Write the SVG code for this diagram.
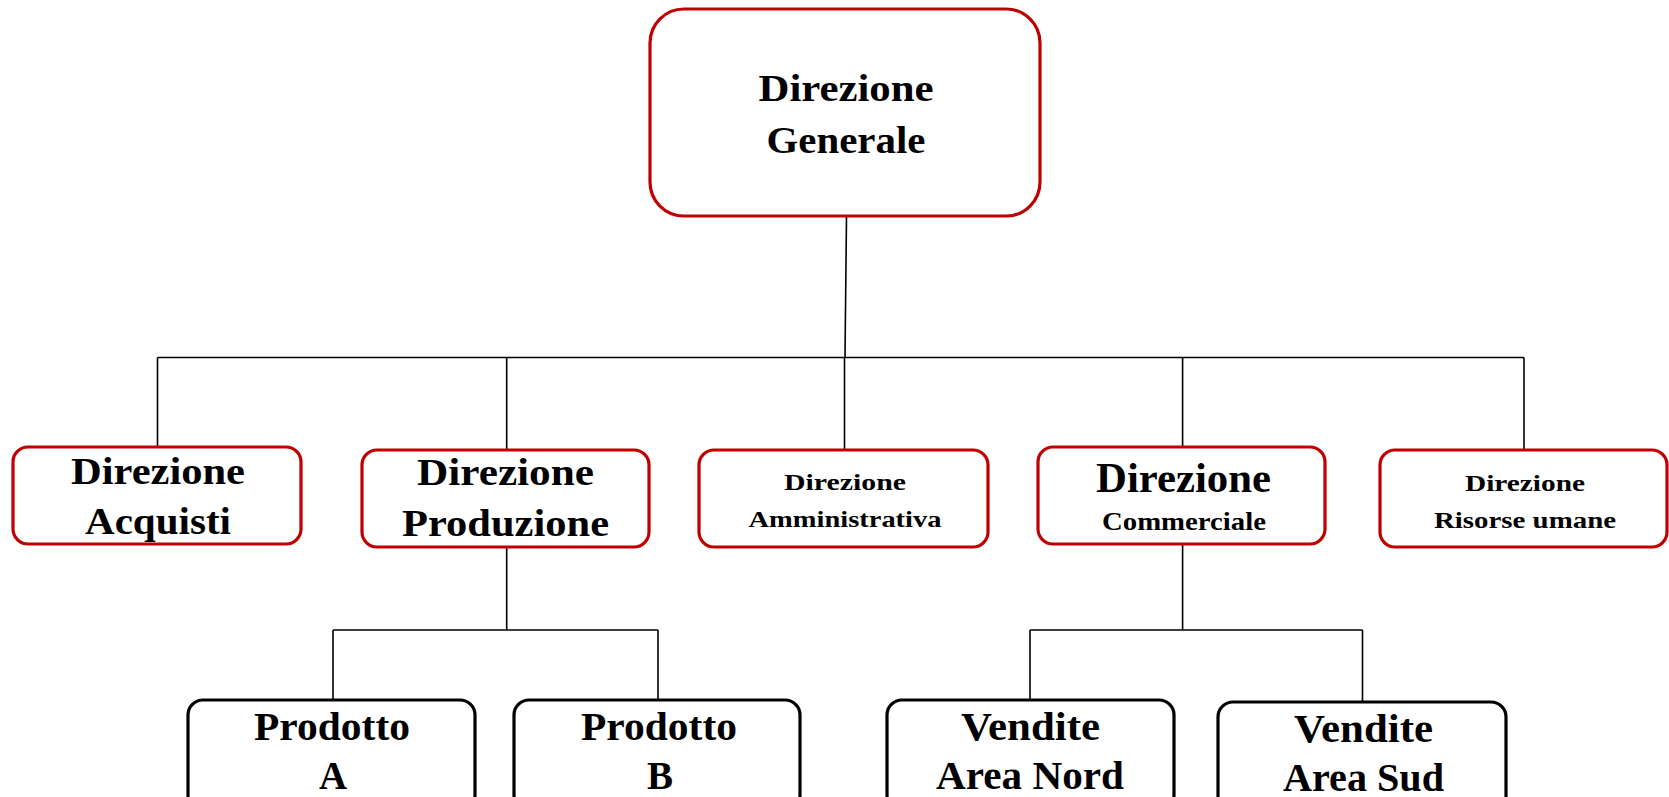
<svg xmlns="http://www.w3.org/2000/svg" width="1669" height="797" viewBox="0 0 1669 797">
<style>
.red{fill:#fff;stroke:#c00000;stroke-width:3.2}
.blk{fill:#fff;stroke:#000;stroke-width:3.2}
.conn{fill:none;stroke:#000;stroke-width:1.6}
text{font-family:"Liberation Serif","Times New Roman",serif;font-weight:bold;fill:#000;text-anchor:middle}
</style>
<rect width="1669" height="797" fill="#fff"/>
<g id="connectors">
<path class="conn" d="M846.5 216 L845 357.5 M157.5 357.5 H1524 M157.5 357.5 V448 M506.7 357.5 V451 M844.5 357.5 V451 M1182.6 357.5 V448 M1524 357.5 V451"/>
<path class="conn" d="M506.7 547 V630 M333 630 H658 M333 630 V700 M658 630 V700"/>
<path class="conn" d="M1182.6 544 V630 M1030 630 H1362.5 M1030 630 V700 M1362.5 630 V702"/>
</g>
<g id="n-generale">
<rect class="red" x="650" y="9" width="390" height="207" rx="34"/>
<text x="846" y="101" font-size="38" textLength="175" lengthAdjust="spacingAndGlyphs">Direzione</text>
<text x="846" y="153" font-size="38" textLength="159" lengthAdjust="spacingAndGlyphs">Generale</text>
</g>
<g id="n-acquisti">
<rect class="red" x="13" y="447" width="288" height="97" rx="15"/>
<text x="158" y="484" font-size="38" textLength="174" lengthAdjust="spacingAndGlyphs">Direzione</text>
<text x="158" y="534" font-size="38" textLength="146" lengthAdjust="spacingAndGlyphs">Acquisti</text>
</g>
<g id="n-produzione">
<rect class="red" x="362" y="450" width="287" height="97" rx="15"/>
<text x="505.5" y="485" font-size="38" textLength="177" lengthAdjust="spacingAndGlyphs">Direzione</text>
<text x="505.5" y="536" font-size="38" textLength="207" lengthAdjust="spacingAndGlyphs">Produzione</text>
</g>
<g id="n-amministrativa">
<rect class="red" x="699" y="450" width="289" height="97" rx="15"/>
<text x="845" y="490" font-size="23" textLength="122" lengthAdjust="spacingAndGlyphs">Direzione</text>
<text x="845" y="527" font-size="23" textLength="193" lengthAdjust="spacingAndGlyphs">Amministrativa</text>
</g>
<g id="n-commerciale">
<rect class="red" x="1038" y="447" width="287" height="97" rx="15"/>
<text x="1183.5" y="492" font-size="42" textLength="175" lengthAdjust="spacingAndGlyphs">Direzione</text>
<text x="1184" y="530" font-size="25" textLength="164" lengthAdjust="spacingAndGlyphs">Commerciale</text>
</g>
<g id="n-risorse">
<rect class="red" x="1380" y="450" width="287" height="97" rx="15"/>
<text x="1525" y="491" font-size="24" textLength="120" lengthAdjust="spacingAndGlyphs">Direzione</text>
<text x="1525" y="528" font-size="24" textLength="182" lengthAdjust="spacingAndGlyphs">Risorse umane</text>
</g>
<g id="n-prodotto-a">
<rect class="blk" x="188" y="700" width="287" height="110" rx="15"/>
<text x="332" y="740" font-size="40" textLength="156" lengthAdjust="spacingAndGlyphs">Prodotto</text>
<text x="333" y="789" font-size="40" textLength="28" lengthAdjust="spacingAndGlyphs">A</text>
</g>
<g id="n-prodotto-b">
<rect class="blk" x="514" y="700" width="286" height="110" rx="15"/>
<text x="659" y="740" font-size="40" textLength="156" lengthAdjust="spacingAndGlyphs">Prodotto</text>
<text x="660" y="789" font-size="40" textLength="26" lengthAdjust="spacingAndGlyphs">B</text>
</g>
<g id="n-vendite-nord">
<rect class="blk" x="887" y="700" width="287" height="110" rx="15"/>
<text x="1030.5" y="740" font-size="40" textLength="139" lengthAdjust="spacingAndGlyphs">Vendite</text>
<text x="1030" y="789" font-size="40" textLength="188" lengthAdjust="spacingAndGlyphs">Area Nord</text>
</g>
<g id="n-vendite-sud">
<rect class="blk" x="1218" y="702" width="288" height="110" rx="15"/>
<text x="1363.5" y="742" font-size="40" textLength="139" lengthAdjust="spacingAndGlyphs">Vendite</text>
<text x="1363.5" y="791" font-size="40" textLength="161" lengthAdjust="spacingAndGlyphs">Area Sud</text>
</g>
</svg>
